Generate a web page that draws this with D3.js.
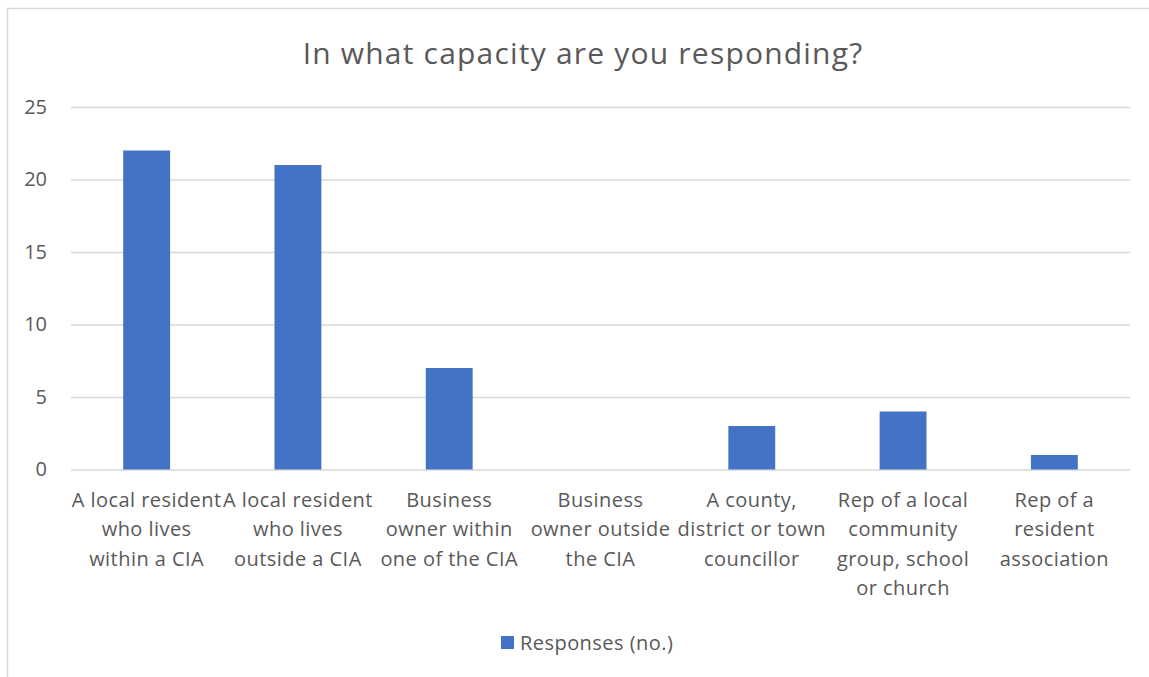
<!DOCTYPE html>
<html>
<head>
<meta charset="utf-8">
<script src="https://cdn.jsdelivr.net/npm/d3@7"></script>
<style>
  html, body { margin: 0; padding: 0; background: #fff; }
  svg { display: block; }
  text { font-family: "Open Sans", "Noto Sans", sans-serif; fill: #595959; }
</style>
</head>
<body>
<svg id="chart" width="1149" height="677"></svg>
<script>
// Survey responses by capacity
const categories = [
  "A local resident\nwho lives\nwithin a CIA",
  "A local resident\nwho lives\noutside a CIA",
  "Business\nowner within\none of the CIA",
  "Business\nowner outside\nthe CIA",
  "A county,\ndistrict or town\ncouncillor",
  "Rep of a local\ncommunity\ngroup, school\nor church",
  "Rep of a\nresident\nassociation"
];
const responses = [22, 21, 7, 0, 3, 4, 1];
const yTicks = [0, 5, 10, 15, 20, 25];
const seriesName = "Responses (no.)";
const titleText = "In what capacity are you responding?";

const W = 1149, H = 677;
const margin = { left: 71, right: 19 };
const svg = d3.select("#chart");

// Chart area frame
svg.append("rect")
  .attr("x", 7.5).attr("y", 8.5)
  .attr("width", W + 20).attr("height", H + 20)
  .attr("fill", "none").attr("stroke", "#d9d9d9").attr("stroke-width", 1.5);

const x = d3.scaleBand()
  .domain(categories)
  .range([margin.left, W - margin.right])
  .paddingInner(0.69).paddingOuter(0.345);

const y = d3.scaleLinear()
  .domain([0, 25])
  .range([469.5, 107]);

// Gridlines and y labels
const yAxis = svg.append("g")
  .attr("transform", `translate(${margin.left},0)`)
  .call(d3.axisLeft(y).tickValues(yTicks).tickSize(-(W - margin.right - margin.left)).tickPadding(24));
yAxis.select(".domain").remove();
yAxis.selectAll(".tick line").attr("stroke", "#d9d9d9").attr("stroke-width", 1.3);
yAxis.selectAll(".tick text")
  .attr("font-size", 20).attr("fill", "#595959")
  .style("font-family", '"Open Sans", sans-serif');

// Bars
svg.append("g").selectAll("rect")
  .data(responses)
  .join("rect")
  .attr("x", (d, i) => x(categories[i]))
  .attr("y", d => y(d))
  .attr("width", x.bandwidth())
  .attr("height", d => y(0) - y(d))
  .attr("fill", "#4472c4");

// Category labels (multi-line)
const xl = svg.append("g");
categories.forEach(c => {
  const t = xl.append("text")
    .attr("text-anchor", "middle")
    .attr("font-size", 20)
    .attr("letter-spacing", 0.45);
  c.split("\n").forEach((line, k) => {
    t.append("tspan")
      .attr("x", x(c) + x.bandwidth() / 2)
      .attr("y", 507 + k * 29.3)
      .text(line);
  });
});

// Title
svg.append("text")
  .attr("x", 583).attr("y", 64)
  .attr("text-anchor", "middle")
  .attr("font-size", 30)
  .attr("letter-spacing", 1.2)
  .text(titleText);

// Legend
svg.append("rect")
  .attr("x", 501).attr("y", 636)
  .attr("width", 13).attr("height", 13)
  .attr("fill", "#4472c4");
svg.append("text")
  .attr("x", 520).attr("y", 650)
  .attr("font-size", 20)
  .attr("letter-spacing", 0.45)
  .text(seriesName);
</script>
</body>
</html>
